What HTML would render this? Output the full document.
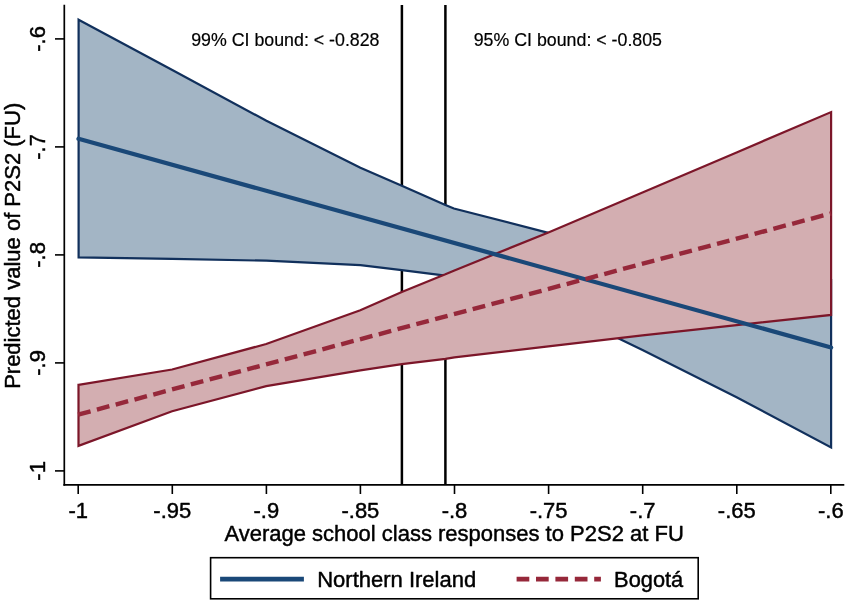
<!DOCTYPE html>
<html>
<head>
<meta charset="utf-8">
<title>Predicted value of P2S2 (FU)</title>
<style>
html,body{margin:0;padding:0;background:#fff;}
body{width:851px;height:606px;overflow:hidden;}
svg{display:block;}
text{font-family:"Liberation Sans",Arial,sans-serif;fill:#000;stroke:#000;stroke-width:0.45px;stroke-linejoin:round;}
</style>
</head>
<body>
<svg width="851" height="606" viewBox="0 0 851 606">
<rect x="0" y="0" width="851" height="606" fill="#ffffff"/>
<!-- reference vertical lines -->
<line x1="401.9" y1="5" x2="401.9" y2="484.5" stroke="#000" stroke-width="2.5"/>
<line x1="445.4" y1="5" x2="445.4" y2="484.5" stroke="#000" stroke-width="2.5"/>
<!-- blue CI area -->
<polygon fill="#a3b5c5" stroke="#11305c" stroke-width="2.2" stroke-linejoin="miter"
 points="78.6,19.7 172.3,70 266.4,120.8 360.4,167.7 401.8,185.8 445.4,204.9 453.9,208.5 548.4,232.9 642.5,252 736.6,268 831.1,280
 831.1,447.5 736.6,397.3 642.5,350 548.4,304.5 454.4,277 445.4,275.7 401.8,270.1 360.4,265.2 266.4,260.7 172.3,258.8 78.6,257.4"/>
<!-- red CI area -->
<polygon fill="#d3aeb1" stroke="#7c1629" stroke-width="2.2" stroke-linejoin="miter"
 points="78.5,384.8 172.1,369.5 266.2,344 360.3,310.3 401.8,292 445.4,274.3 454.4,270.4 548.4,232.5 642.5,192.6 736.6,152.4 831.1,112.1
 831.1,314.9 736.6,325.2 642.5,335.3 548.4,346.3 454.4,357.4 445.4,358.9 401.8,364.1 360.3,370.4 266.2,386.2 172.1,411.2 78.5,445.8"/>
<!-- fitted lines -->
<line x1="78.5" y1="138.7" x2="831.1" y2="347.5" stroke="#1a4878" stroke-width="4.3" stroke-linecap="round"/>
<line x1="78.1" y1="414.6" x2="831.1" y2="213.4" stroke="#96283a" stroke-width="4.4" stroke-dasharray="12.9 6.55"/>
<!-- axes -->
<line x1="64.3" y1="4.8" x2="64.3" y2="485.8" stroke="#000" stroke-width="1.7"/>
<line x1="63.4" y1="484.9" x2="844.3" y2="484.9" stroke="#000" stroke-width="1.7"/>
<g stroke="#000" stroke-width="1.6">
<line x1="55" y1="38.9" x2="64.3" y2="38.9"/>
<line x1="55" y1="146.9" x2="64.3" y2="146.9"/>
<line x1="55" y1="254.9" x2="64.3" y2="254.9"/>
<line x1="55" y1="362.9" x2="64.3" y2="362.9"/>
<line x1="55" y1="470.9" x2="64.3" y2="470.9"/>
<line x1="78.2" y1="484.9" x2="78.2" y2="494"/>
<line x1="172.3" y1="484.9" x2="172.3" y2="494"/>
<line x1="266.4" y1="484.9" x2="266.4" y2="494"/>
<line x1="360.4" y1="484.9" x2="360.4" y2="494"/>
<line x1="454.5" y1="484.9" x2="454.5" y2="494"/>
<line x1="548.6" y1="484.9" x2="548.6" y2="494"/>
<line x1="642.7" y1="484.9" x2="642.7" y2="494"/>
<line x1="736.8" y1="484.9" x2="736.8" y2="494"/>
<line x1="830.8" y1="484.9" x2="830.8" y2="494"/>
</g>
<!-- y tick labels -->
<g font-size="22" text-anchor="middle">
<text transform="translate(44.6,38.9) rotate(-90)">-.6</text>
<text transform="translate(44.6,146.9) rotate(-90)">-.7</text>
<text transform="translate(44.6,254.9) rotate(-90)">-.8</text>
<text transform="translate(44.6,362.9) rotate(-90)">-.9</text>
<text transform="translate(44.6,470.9) rotate(-90)">-1</text>
</g>
<text font-size="22" text-anchor="middle" transform="translate(20.3,245.8) rotate(-90)">Predicted value of P2S2 (FU)</text>
<!-- x tick labels -->
<g font-size="22" text-anchor="middle">
<text x="78.2" y="518.2">-1</text>
<text x="172.3" y="518.2">-.95</text>
<text x="266.4" y="518.2">-.9</text>
<text x="360.4" y="518.2">-.85</text>
<text x="454.5" y="518.2">-.8</text>
<text x="548.6" y="518.2">-.75</text>
<text x="642.7" y="518.2">-.7</text>
<text x="736.8" y="518.2">-.65</text>
<text x="830.8" y="518.2">-.6</text>
</g>
<text font-size="22" text-anchor="middle" x="454.1" y="540.6">Average school class responses to P2S2 at FU</text>
<!-- annotations -->
<text font-size="17.8" x="191.2" y="46.3" style="stroke-width:0.2px">99% CI bound: &lt; -0.828</text>
<text font-size="17.8" x="473.7" y="46.3" style="stroke-width:0.2px">95% CI bound: &lt; -0.805</text>
<!-- legend -->
<rect x="210.6" y="557.7" width="487.6" height="41.1" fill="#fff" stroke="#000" stroke-width="1.6"/>
<line x1="220.1" y1="579.2" x2="303.9" y2="579.2" stroke="#1a4878" stroke-width="4.7"/>
<text font-size="22" x="317.2" y="587.4">Northern Ireland</text>
<line x1="516.6" y1="579.1" x2="600.9" y2="579.1" stroke="#96283a" stroke-width="4.8" stroke-dasharray="12.7 6.7"/>
<text font-size="21.8" x="614.1" y="587.4">Bogotá</text>
</svg>
</body>
</html>
